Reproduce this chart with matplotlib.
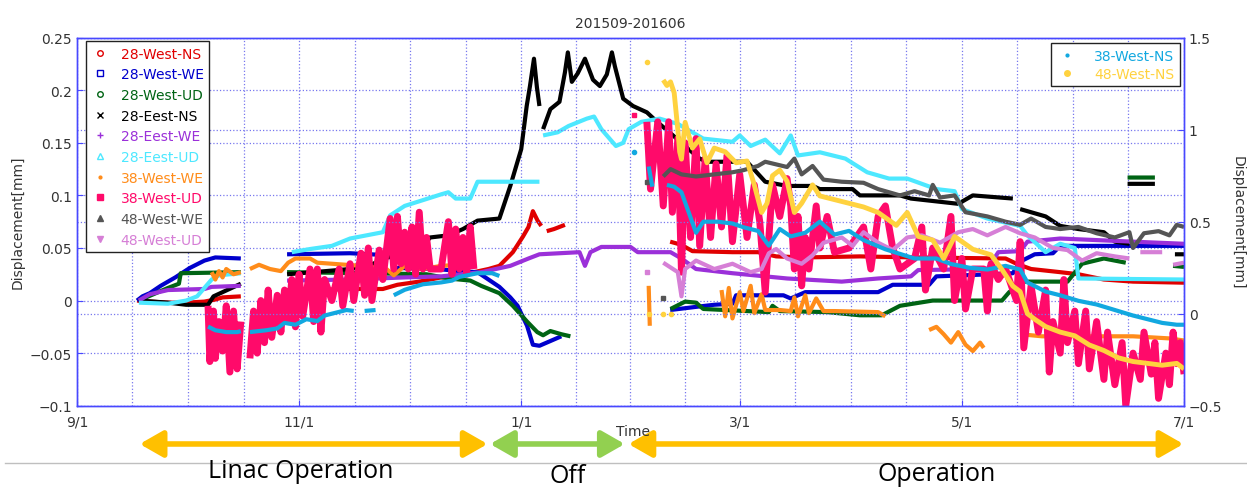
import numpy as np
import matplotlib.pyplot as plt
from matplotlib.lines import Line2D
from matplotlib.patches import FancyArrowPatch

nan = np.nan

# time axis: days counted from 2015/9/1
tick_days = [0, 61, 122, 182, 243, 304]
tick_labels = ['9/1', '11/1', '1/1', '3/1', '5/1', '7/1']

# ---- left axis series [mm] ----
w28_ns_day = [16.5, 20, 25, 30, 35, 38, 40, 45, nan,
              57.7, 65, 75, 84, 88, 94, 100, 106, 109, 113, 116, 118, 119.7, 122.5, 124, 125.2, 126.5, 127.5, nan,
              129, 131, 134, nan,
              162.9, 166, 169, 180, 187, 192, 200, 215, 230, 255, 258, 262, 270, 275, 282, 290, 304]
w28_ns_val = [0, -0.001, -0.002, -0.002, -0.001, 0.001, 0.003, 0.004, nan,
              0.008, 0.01, 0.011, 0.011, 0.015, 0.018, 0.022, 0.024, 0.027, 0.03, 0.033, 0.04, 0.046, 0.061, 0.07, 0.085, 0.076, 0.071, nan,
              0.066, 0.068, 0.072, nan,
              0.056, 0.053, 0.047, 0.046, 0.046, 0.042, 0.041, 0.042, 0.041, 0.04, 0.035, 0.03, 0.027, 0.025, 0.02, 0.018, 0.017]

w28_we_day = [16.5, 18, 20, 23, 27, 31, 35, 38, 45, nan,
              57.7, 75, 86, 87.5, 99, 105, 110, 113, 116, 119, 121, 123.6, 125.2, 127, 129, 133, nan,
              162.9, 170, 175, 180, 181, 194, 196, 200, 215, 220, 224, 234, 236, 251, 257, 259, 263, 268, 270, 304]
w28_we_val = [0, 0.004, 0.007, 0.014, 0.022, 0.031, 0.038, 0.041, 0.04, nan,
              0.044, 0.045, 0.043, 0.031, 0.03, 0.028, 0.027, 0.02, 0.013, 0.003, -0.005, -0.024, -0.042, -0.043, -0.04, -0.034, nan,
              -0.009, -0.006, -0.004, -0.003, 0.005, 0.005, 0.002, 0.008, 0.008, 0.008, 0.015, 0.015, 0.023, 0.025, 0.026, 0.037, 0.044, 0.045, 0.052, 0.052]

w28_ud_day = [17, 21, 25, 28, 28.5, 45, nan,
              57.7, 80, 96, 102, 108, 111, 116, 119.7, 123.6, 126.4, 128, 130, 133, 135.5, nan,
              163, 167, 170, 172, 190, 191, 193, 206, 215, 221, 226, 235, 254, 256, 260, 272, 276, 282, 288, nan,
              301, 304, nan, 288.5, 296]
w28_ud_val = [0, 0.006, 0.012, 0.016, 0.026, 0.027, nan,
              0.027, 0.026, 0.025, 0.021, 0.019, 0.014, 0.007, -0.005, -0.02, -0.03, -0.033, -0.029, -0.032, -0.034, nan,
              -0.008, -0.001, -0.002, -0.008, -0.011, -0.005, -0.01, -0.011, -0.014, -0.014, -0.005, 0.0, 0.0, 0.008, 0.018, 0.018, 0.035, 0.04, 0.036, nan,
              0.033, 0.032, nan, 0.117, 0.117]

e28_ns_day = [17, 25, 30, 36, 37.5, 40, 45, nan,
              57.7, 65, 75, 80, 86, 94, 97, 102, 106, 110, 116, 119, 122, 123.5, 124.4, 125.5, 126.3, 127, nan,
              128, 130, 132.5, 134, 134.8, 135.9, 137.5, 139.5, 141.7, 143.6, 145.5, 146.9, 147.7, 150, 152.7, 156.5,
              159.3, 163.7, 165.6, 171, 173, 184, 189, 195, 202, 204, 213, 215, 226, 229, 242, 246, 257, nan,
              259, 266, 270, 275, 282, 285, 289, nan, 288.5, 296, nan, 301.5, 304]
e28_ns_val = [0, -0.002, -0.004, -0.004, 0.004, 0.008, 0.016, nan,
              0.025, 0.027, 0.03, 0.033, 0.042, 0.048, 0.06, 0.062, 0.068, 0.076, 0.078, 0.109, 0.144, 0.185, 0.204, 0.23, 0.203, 0.185, nan,
              0.163, 0.182, 0.189, 0.217, 0.236, 0.208, 0.216, 0.23, 0.21, 0.204, 0.215, 0.236, 0.223, 0.192, 0.185, 0.179,
              0.17, 0.157, 0.151, 0.135, 0.132, 0.132, 0.113, 0.109, 0.109, 0.106, 0.106, 0.1, 0.1, 0.097, 0.092, 0.1, 0.097, nan,
              0.087, 0.08, 0.071, 0.068, 0.065, 0.056, 0.054, nan, 0.111, 0.111, nan, 0.044, 0.044]

e28_we_day = [17, 20, 25, 35, 37, 45, nan,
              57.7, 75, 90, 100, 111, 119, 124, 125.5, 127, 138, 139.5, 141, 144, 152, 154, 163, 166, 170, 180,
              195, 210, 220, 229, 231, 250, 253, 259, 261, 270, 290, 304]
e28_we_val = [0, 0.006, 0.01, 0.011, 0.013, 0.014, nan,
              0.019, 0.02, 0.022, 0.023, 0.027, 0.033, 0.04, 0.042, 0.044, 0.046, 0.033, 0.046, 0.051, 0.051, 0.046, 0.046, 0.04, 0.03, 0.026,
              0.021, 0.018, 0.021, 0.023, 0.029, 0.03, 0.046, 0.047, 0.056, 0.059, 0.056, 0.054]

e28_ud_day = [17, 25, 30, 33, 35, 37, 39, 45, nan,
              59, 64, 70, 75, 84, 86, 90, 100, 102, 104, 108, 110, 127, nan,
              128, 132, 135, 140, 142, 144, 148, 150, 151.5, 155, 160, 165, 172, 180, 182, 185, 189, 193, 196, 198,
              204, 211, 217, 223, 228, 236, 241, 243, 250, 259, 261, 266, 270, 274, 275, 304]
e28_ud_val = [-0.002, -0.003, 0.0, 0.004, 0.012, 0.02, 0.024, 0.026, nan,
              0.046, 0.049, 0.052, 0.059, 0.065, 0.081, 0.09, 0.101, 0.103, 0.097, 0.097, 0.113, 0.113, nan,
              0.157, 0.16, 0.166, 0.173, 0.175, 0.163, 0.147, 0.15, 0.163, 0.17, 0.173, 0.168, 0.154, 0.151, 0.157, 0.147, 0.153, 0.14, 0.157, 0.138,
              0.141, 0.135, 0.122, 0.116, 0.116, 0.106, 0.104, 0.087, 0.078, 0.071, 0.062, 0.046, 0.054, 0.05, 0.021, 0.02]

w38_we_day = [37, 38, 39, 40, 41, 43, 45, nan,
              47.5, 50, 53, 56, 58, 60, 64, 66, 70, 78, 85, 87, 90, 95, 100, 105, 108, nan,
              157, 157.3, nan,
              177, 178, 179, 180, 182, 183, 185, 186, 188, 189, 193, 196, 197, 198, 200, 201, 203, 205, 208, 220, 222, nan,
              234, 236, 238, 240, 242, 244, 246, 248, 249, nan,
              259, 265, 280, 290, 300, 304]
w38_we_val = [0.027, 0.02, 0.028, 0.022, 0.03, 0.025, 0.027, nan,
              0.03, 0.034, 0.03, 0.028, 0.036, 0.04, 0.04, 0.036, 0.035, 0.033, 0.03, 0.024, 0.033, 0.03, 0.033, 0.034, 0.033, nan,
              0.014, -0.024, nan,
              0.01, -0.015, 0.012, -0.017, 0.008, -0.01, 0.014, -0.012, 0.006, -0.009, -0.009, -0.01, 0.003, -0.015, 0.005, -0.012, 0.002, -0.01, -0.01, -0.011, -0.015, nan,
              -0.028, -0.025, -0.032, -0.04, -0.03, -0.042, -0.048, -0.04, -0.045, nan,
              -0.032, -0.034, -0.034, -0.034, -0.036, -0.038]

w38_ud_day = [36, 36.5, 37.5, 38, 39, 40, 41, 42, 43, 44, 45, nan,
              47.5, 48.5, 49.5, 50.5, 51.5, 52.5, 53.5, 55, 56, 57, 58, 59, 60, 61, 62, 64, 65, 66, 67, 68, 70, 72, 73,
              75, 76, 78, 79, 80, 81, 83, 84, 86, 87, 88, 89, 90, 91, 92, 93, 94, 95, 96, 97, 100, 102, 103, 104, 105,
              106, 107, 108, 109, nan,
              156.5, 157.5, 159.5, 161, 162.5, 163.5, 165, 166, 167, 168.5, 170, 171, 172.5, 174, 175.5, 177, 178.5,
              180, 182, 184, 186, 187.5, 189, 190, 191, 193, 195, 196, 197, 198, 199, 200, 201, 203, 204, 206, 208,
              212, 216, 218, 220, 222, 224, 226, 230, 232, 233, 235, 238, 240, 241, 243, 244, 246, 249, 250, 251, 253,
              255, 258, 259, 260, 262, 264, 266, 267, 268, 270, 271, 272, 274, 275, 277, 278, 280, 282, 283, 285, 287,
              288, 290, 292, 293, 295, 296, 297, 299, 300, 301, 302, 303, 304]
w38_ud_val = [-0.005, -0.058, -0.01, -0.055, -0.02, -0.048, -0.005, -0.068, -0.01, -0.065, -0.02, nan,
              -0.055, -0.01, -0.05, 0.0, -0.04, 0.01, -0.035, 0.005, -0.03, 0.01, -0.02, 0.02, -0.025, 0.025, -0.015, 0.03, -0.02, 0.03, -0.03, 0.02, 0.0, 0.03, -0.005,
              0.035, 0.0, 0.045, 0.005, 0.05, 0.0, 0.048, 0.02, 0.078, 0.03, 0.08, 0.035, 0.065, 0.03, 0.07, 0.025, 0.084, 0.03, 0.06, 0.03, 0.03, 0.075, 0.025, 0.068, 0.03,
              0.06, 0.025, 0.07, 0.03, nan,
              0.17, 0.106, 0.17, 0.09, 0.17, 0.084, 0.154, 0.027, 0.15, 0.06, 0.154, 0.052, 0.135, 0.06, 0.13, 0.07, 0.138,
              0.056, 0.12, 0.06, 0.11, 0.075, 0.008, 0.06, 0.11, 0.08, 0.116, 0.09, 0.03, 0.08, 0.014, 0.06, 0.03, 0.09, 0.05, 0.08, 0.046,
              0.05, 0.07, 0.03, 0.08, 0.09, 0.05, 0.03, 0.04, 0.07, 0.01, 0.05, 0.03, 0.08, 0.0, 0.04, -0.008, 0.03, 0.03, -0.01, 0.035, 0.02,
              0.03, 0.0, 0.056, -0.045, 0.014, -0.03, 0.01, -0.068, -0.02, -0.05, 0.02, -0.04, -0.01, -0.06, -0.01, -0.065, -0.02, -0.075, -0.03, -0.08, -0.04,
              -0.1, -0.05, -0.075, -0.03, -0.07, -0.04, -0.093, -0.05, -0.08, -0.03, -0.06, -0.04, -0.07]

w48_we_day = [161, 163, 166, 170, 175, 180, 183, 187, 189, 195, 197, 199, 202, 205, 210, 216, 220, 226, 230, 234,
              235, 237, 241, 244, 250, 255, 259, 262, 266, 270, 275, 280, 285, 289, 290, 293, 297, 300, 302, 304]
w48_we_val = [0.118, 0.125, 0.12, 0.118, 0.12, 0.122, 0.124, 0.128, 0.132, 0.127, 0.135, 0.12, 0.128, 0.115, 0.113, 0.112, 0.106, 0.1, 0.104, 0.1,
              0.11, 0.098, 0.1, 0.084, 0.08, 0.075, 0.072, 0.078, 0.07, 0.068, 0.07, 0.064, 0.06, 0.065, 0.05, 0.064, 0.066, 0.062, 0.072, 0.07]

w48_ud_day = [161, 165, 166, 167, 170, 175, 180, 185, 188, 190, 192, 195, 199, 202, 205, 210, 213, 216, 220, 224,
              228, 232, 237, 242, 246, 250, 255, 259, 263, 268, 272, 276, 280, 285, 289, nan, 292, 298, nan, 301, 304]
w48_ud_val = [0.036, 0.027, 0.004, 0.03, 0.038, 0.03, 0.035, 0.027, 0.03, 0.045, 0.049, 0.04, 0.035, 0.043, 0.055, 0.06, 0.052, 0.065, 0.055, 0.048,
              0.06, 0.062, 0.055, 0.065, 0.068, 0.062, 0.07, 0.064, 0.06, 0.05, 0.048, 0.038, 0.045, 0.042, 0.04, nan, 0.046, 0.046, nan, 0.034, 0.036]

# stray single readings around 2/8 (left axis)
stray_day = [153, 156.5, 156.5, 161]
stray_val = [0.176, 0.113, 0.027, 0.002]
stray_col = ['#ff0a6a', '#555555', '#d67fd6', '#555555']

# ---- right axis series [mm] ----
w38_ns_day = [36, 38, 41, 44, 45, nan,
              47.5, 52, 55, 57, 60, 63, 66, 68, 74, 76, nan, 79, 82, nan,
              87, 90, 95, 100, 103, 105, 110, 114, 116, nan,
              157, 158, nan,
              162, 164, 166, 168, 170, 172, 176, 180, 183, 187, 190, 193, 196, 200, 204, 208, 212, 216, 222, 230, 236,
              240, 245, 250, 255, 259, 261, 266, 270, 275, 280, 285, 290, 294, 298, 302, 304]
w38_ns_val = [-0.07, -0.09, -0.1, -0.1, -0.095, nan,
              -0.1, -0.09, -0.08, -0.05, -0.06, -0.03, -0.04, -0.01, 0.02, 0.015, nan, 0.015, 0.02, nan,
              0.1, 0.13, 0.16, 0.17, 0.18, 0.2, 0.22, 0.22, 0.205, nan,
              0.8, 0.69, nan,
              0.7, 0.69, 0.66, 0.55, 0.44, 0.5, 0.5, 0.49, 0.47, 0.45, 0.37, 0.46, 0.42, 0.44, 0.5, 0.43, 0.45, 0.4, 0.35, 0.3, 0.3,
              0.27, 0.25, 0.24, 0.26, 0.24, 0.17, 0.12, 0.1, 0.07, 0.05, 0.02, -0.01, -0.03, -0.05, -0.06, -0.06]

w48_ns_day = [161, 162, 163, 164, 165, 165.5, 166, 167, 169, 171, 173, 175, 178, 181, 184, 186, 188, 189.5, 191, 193,
              195, 197, 199, 202, 204, 208, 212, 216, 220, 225, 228, 231, 235, 238, 241, 246, 251, 254, 257, 259, 261,
              263, 266, 270, 274, 278, 282, 286, 290, 294, 298, 302, 304]
w48_ns_val = [1.27, 1.24, 1.26, 1.2, 1.0, 0.88, 0.84, 1.04, 0.9, 0.95, 0.82, 0.9, 0.88, 0.82, 0.83, 0.7, 0.55, 0.6, 0.75, 0.78,
              0.72, 0.55, 0.6, 0.7, 0.64, 0.62, 0.6, 0.58, 0.55, 0.48, 0.55, 0.42, 0.4, 0.3, 0.42, 0.35, 0.32, 0.24, 0.15, 0.12, 0.0,
              -0.03, -0.07, -0.1, -0.12, -0.17, -0.2, -0.24, -0.26, -0.27, -0.28, -0.27, -0.3]

stray_r_day = [153, 156.5, 157, 161, 163]
stray_r_val = [0.88, 1.37, 0.0, 0.0, 0.0]
stray_r_col = ['#12a8e0', '#ffd23f', '#ffd23f', '#ffd23f', '#ffd23f']

left_series = [
    ('28-West-NS', w28_ns_day, w28_ns_val, '#e00000', 'o', 'none', 3),
    ('28-West-WE', w28_we_day, w28_we_val, '#0000cc', 's', 'none', 3),
    ('28-West-UD', w28_ud_day, w28_ud_val, '#006414', 'o', 'none', 3),
    ('28-Eest-NS', e28_ns_day, e28_ns_val, '#000000', 'x', None, 3),
    ('28-Eest-WE', e28_we_day, e28_we_val, '#9b30d9', '+', None, 3),
    ('28-Eest-UD', e28_ud_day, e28_ud_val, '#4de8ff', '^', 'none', 3),
    ('38-West-WE', w38_we_day, w38_we_val, '#ff8c1a', '.', None, 3),
    ('38-West-UD', w38_ud_day, w38_ud_val, '#ff0a6a', 's', None, 5),
    ('48-West-WE', w48_we_day, w48_we_val, '#555555', '^', None, 3),
    ('48-West-UD', w48_ud_day, w48_ud_val, '#d67fd6', 'v', None, 3),
]
right_series = [
    ('38-West-NS', w38_ns_day, w38_ns_val, '#12a8e0', '.', None, 3),
    ('48-West-NS', w48_ns_day, w48_ns_val, '#ffd23f', 'o', None, 3.5),
]

fig = plt.figure(figsize=(12.47, 4.89), dpi=100)
ax = fig.add_axes([0.0617, 0.1683, 0.8878, 0.7526])
ax2 = ax.twinx()

grid_kw = dict(color='#7777ee', linestyle=':', linewidth=0.9)

def make_handle(col, mk, mfc):
    return Line2D([], [], color=col, marker=mk, linestyle='none', markersize=4,
                  markerfacecolor=col if mfc is None else mfc, markeredgewidth=1)

h_left = []
for name, d, v, col, mk, mfc, lw in left_series:
    ax.plot(d, v, color=col, lw=lw, solid_capstyle='butt')
    h_left.append(make_handle(col, mk, mfc))
for d, v, c in zip(stray_day, stray_val, stray_col):
    ax.plot(d, v, 's', color=c, ms=3)

h_right = []
for name, d, v, col, mk, mfc, lw in right_series:
    ax2.plot(d, v, color=col, lw=lw, solid_capstyle='butt')
    h_right.append(make_handle(col, mk, mfc))
for d, v, c in zip(stray_r_day, stray_r_val, stray_r_col):
    ax2.plot(d, v, 'o', color=c, ms=3)

ax.set_xlim(0, 304)
ax.set_ylim(-0.1, 0.25)
ax2.set_ylim(-0.5, 1.5)
ax.set_xticks(tick_days)
ax.set_xticklabels(tick_labels)
minor = []
for a, b in zip(tick_days[:-1], tick_days[1:]):
    minor += [a + (b - a) * k / 4 for k in (1, 2, 3)]
ax.set_xticks(minor, minor=True)
ax.set_yticks(np.arange(-0.1, 0.2501, 0.05))
ax.set_yticklabels(['\u22120.1', '\u22120.05', '0', '0.05', '0.1', '0.15', '0.2', '0.25'])
ax2.set_yticks([-0.5, 0, 0.5, 1, 1.5])
ax2.set_yticklabels(['\u22120.5', '0', '0.5', '1', '1.5'])

ax.grid(True, which='both', **grid_kw)
ax2.yaxis.grid(True, **grid_kw)
ax.set_axisbelow(True)
for a in (ax, ax2):
    for s in a.spines.values():
        s.set_color('#4848ff')
        s.set_linewidth(1)
    a.tick_params(direction='in', colors='#4848ff', labelcolor='#333333', labelsize=10, length=4)
ax.tick_params(which='minor', length=0)
ax.tick_params(axis='x', pad=6)

ax.set_ylabel('Displacement[mm]', fontsize=10, color='#333333', labelpad=4)
ax2.set_ylabel('Displacement[mm]', fontsize=10, color='#333333', rotation=270, labelpad=16)
ax.set_title('201509-201606', fontsize=10, color='#333333', pad=8)
fig.text(0.5076, 0.117, 'Time', fontsize=10, color='#333333', ha='center', va='center')

leg1 = ax2.legend(h_left, [s[0] for s in left_series], loc='upper left', bbox_to_anchor=(0.008, 0.991),
                  borderaxespad=0, fontsize=10, labelspacing=0.48, handlelength=1.2, handletextpad=0.9,
                  frameon=True, fancybox=False, framealpha=1, edgecolor='#222222',
                  labelcolor=[s[3] for s in left_series])
leg1.get_frame().set_linewidth(1)
ax2.add_artist(leg1)
leg2 = ax2.legend(h_right, [s[0] for s in right_series], loc='upper right', bbox_to_anchor=(0.9964, 0.9856),
                  borderaxespad=0, fontsize=10, labelspacing=0.3, handlelength=1.5, handletextpad=1.2,
                  frameon=True, fancybox=False, framealpha=1, edgecolor='#222222',
                  labelcolor=[s[3] for s in right_series])
leg2.get_frame().set_linewidth(1)

# operation periods below the axis
arrows = [((0.112, 0.09), (0.391, 0.09), '#ffc000'),
          ((0.393, 0.09), (0.501, 0.09), '#92d050'),
          ((0.504, 0.09), (0.949, 0.09), '#ffc000')]
for p0, p1, col in arrows:
    fig.patches.append(FancyArrowPatch(p0, p1, transform=fig.transFigure,
                                       arrowstyle='<|-|>,head_length=0.7,head_width=0.4',
                                       mutation_scale=20, color=col, lw=4, shrinkA=0, shrinkB=0))
fig.add_artist(Line2D([0.004, 1.0], [0.051, 0.051], color='#bfbfbf', lw=1))
fig.text(0.241, 0.035, 'Linac Operation', fontsize=18, family='Open Sans', ha='center', va='center')
fig.text(0.455, 0.026, 'Off', fontsize=18, family='Open Sans', ha='center', va='center')
fig.text(0.751, 0.03, 'Operation', fontsize=18, family='Open Sans', ha='center', va='center')

fig.savefig('out.png', dpi=100)
